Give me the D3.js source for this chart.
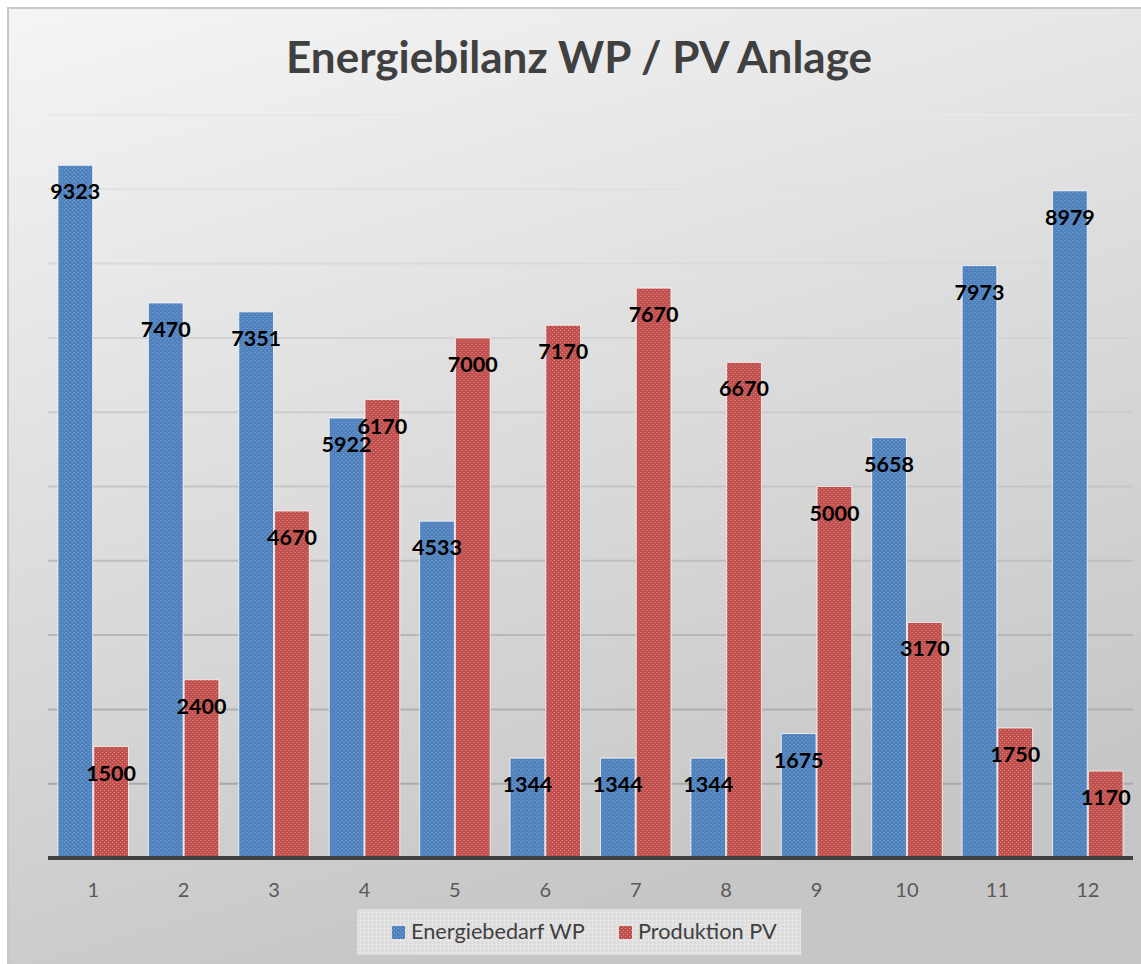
<!DOCTYPE html>
<html>
<head>
<meta charset="utf-8">
<script src="https://cdn.jsdelivr.net/npm/d3@7"></script>
<style>
  html, body { margin: 0; padding: 0; background: #ffffff; }
  svg { display: block; }
</style>
</head>
<body>
<svg id="chart" width="1141" height="964"></svg>
<script>
// ---- data ----
const title = "Energiebilanz WP / PV Anlage";
const categories = ["1","2","3","4","5","6","7","8","9","10","11","12"];
const seriesNames = ["Energiebedarf WP", "Produktion PV"];
const energiebedarfWP = [9323, 7470, 7351, 5922, 4533, 1344, 1344, 1344, 1675, 5658, 7973, 8979];
const produktionPV   = [1500, 2400, 4670, 6170, 7000, 7170, 7670, 6670, 5000, 3170, 1750, 1170];
const yTicks = [1000, 2000, 3000, 4000, 5000, 6000, 7000, 8000, 9000, 10000];
const seriesColors = ["#4f81bd", "#c0504d"];
const seriesDots = ["#7ea3d2", "#dc8886"];

const svg = d3.select("#chart");
const defs = svg.append("defs");

// background gradient
const bg = defs.append("linearGradient").attr("id", "bg")
  .attr("x1", 0).attr("y1", 0).attr("x2", 0.35).attr("y2", 1);
bg.append("stop").attr("offset", "0%").attr("stop-color", "#f5f5f5");
bg.append("stop").attr("offset", "100%").attr("stop-color", "#c6c6c6");

// bar patterns
seriesColors.forEach((c, i) => {
  const p = defs.append("pattern").attr("id", "pat" + i)
    .attr("width", 4).attr("height", 4).attr("patternUnits", "userSpaceOnUse");
  p.append("rect").attr("width", 4).attr("height", 4).attr("fill", c);
  p.append("rect").attr("x", 0).attr("y", 0).attr("width", 1).attr("height", 1).attr("fill", seriesDots[i]);
  p.append("rect").attr("x", 2).attr("y", 2).attr("width", 1).attr("height", 1).attr("fill", seriesDots[i]);
});
// legend box pattern
const lp = defs.append("pattern").attr("id", "legpat")
  .attr("width", 4).attr("height", 4).attr("patternUnits", "userSpaceOnUse");
lp.append("rect").attr("width", 4).attr("height", 4).attr("fill", "#dcdcdc");
lp.append("rect").attr("x", 0).attr("y", 0).attr("width", 1).attr("height", 4).attr("fill", "#e6e6e6");
lp.append("rect").attr("x", 0).attr("y", 0).attr("width", 4).attr("height", 1).attr("fill", "#e6e6e6");

// chart frame
svg.append("rect").attr("x", 8).attr("y", 8).attr("width", 1145).attr("height", 970)
  .attr("fill", "url(#bg)").attr("stroke", "#c8c8c8").attr("stroke-width", 2);

// scales
const x0 = d3.scaleBand().domain(categories).range([48, 1133]).paddingInner(0.22).paddingOuter(0.11);
const x1 = d3.scaleBand().domain(seriesNames).range([0, x0.bandwidth()]).paddingInner(0.03);
const y = d3.scaleLinear().domain([0, 10000]).range([858, 115]);
const gridColor = d3.scaleLinear().domain([10000, 0]).range(["#e8e8e8", "#a2a2a2"]);

// gridlines
svg.append("g").selectAll("line").data(yTicks).join("line")
  .attr("x1", 48).attr("x2", 1133)
  .attr("y1", d => y(d)).attr("y2", d => y(d))
  .attr("stroke", d => gridColor(d)).attr("stroke-width", 2);

// title
svg.append("text").attr("x", 579).attr("y", 73).attr("text-anchor", "middle")
  .attr("font-family", "Lato, 'Open Sans', sans-serif").attr("font-weight", "bold")
  .attr("font-size", 44).attr("fill", "#404040").text(title);

// bars
const series = [energiebedarfWP, produktionPV];
const rows = categories.map((c, i) => seriesNames.map((s, j) => ({ cat: c, s, j, v: series[j][i] })));
const groups = svg.append("g").selectAll("g").data(rows).join("g")
  .attr("transform", d => `translate(${x0(d[0].cat)},0)`);
groups.selectAll("rect").data(d => d).join("rect")
  .attr("x", d => x1(d.s)).attr("width", x1.bandwidth())
  .attr("y", d => y(d.v)).attr("height", d => y(0) - y(d.v))
  .attr("fill", d => `url(#pat${d.j})`)
  .attr("stroke", "rgba(255,255,255,0.75)").attr("stroke-width", 1);
groups.selectAll("text").data(d => d).join("text")
  .attr("x", d => x1(d.s) + x1.bandwidth() / 2).attr("y", d => y(d.v) + 34)
  .attr("text-anchor", "middle")
  .attr("font-family", "Lato, 'Open Sans', sans-serif").attr("font-weight", "bold")
  .attr("font-size", 21.5).attr("fill", "#000").text(d => d.v);

// x axis
const xAxis = svg.append("g").attr("transform", `translate(0,${y(0)})`)
  .call(d3.axisBottom(x0).tickSize(0).tickPadding(0));
xAxis.select(".domain").attr("stroke", "#404040").attr("stroke-width", 4)
  .attr("d", `M48,0H1133`);
xAxis.selectAll(".tick text").attr("dy", null).attr("y", 39)
  .attr("font-family", "Lato, 'Open Sans', sans-serif").attr("font-size", 20).attr("fill", "#595959");

// legend
svg.append("rect").attr("x", 357).attr("y", 909).attr("width", 444).attr("height", 46)
  .attr("fill", "url(#legpat)");
const legX = [392, 619];
const leg = svg.append("g").selectAll("g").data(seriesNames).join("g")
  .attr("transform", (d, i) => `translate(${legX[i]},926)`);
leg.append("rect").attr("width", 13).attr("height", 13).attr("fill", (d, i) => `url(#pat${i})`);
leg.append("text").attr("x", 19).attr("y", 13)
  .attr("font-family", "Lato, 'Open Sans', sans-serif").attr("font-size", 21.7).attr("fill", "#404040")
  .text(d => d);
</script>
</body>
</html>
